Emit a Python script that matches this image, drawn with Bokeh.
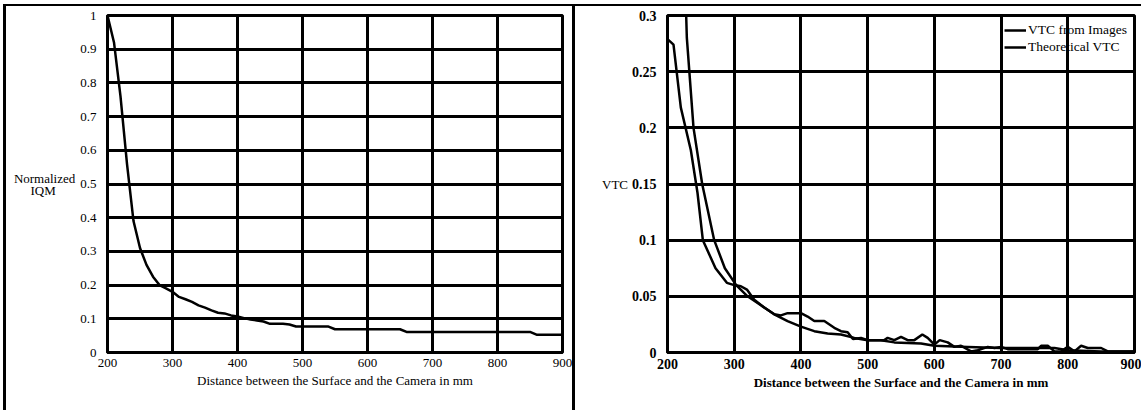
from bokeh.plotting import figure
from bokeh.models import Legend, LegendItem, FixedTicker, Range1d, Div
from bokeh.layouts import row, column
from bokeh.embed import file_html
from bokeh.resources import INLINE

FONT = "Liberation Serif"

# ---- data: left panel (Normalized IQM) ----
dist_iqm = [200, 210, 220, 230, 240, 250, 260, 270, 280, 290, 300, 310, 320, 330, 340,
            350, 360, 370, 380, 390, 400, 410, 420, 430, 440, 450, 460, 470, 480, 490,
            500, 540, 550, 650, 660, 850, 860, 900]
iqm = [1.00, 0.92, 0.76, 0.56, 0.39, 0.31, 0.26, 0.225, 0.20, 0.19, 0.18, 0.165, 0.158, 0.15, 0.14,
       0.133, 0.125, 0.118, 0.116, 0.11, 0.107, 0.102, 0.098, 0.095, 0.092, 0.085, 0.085, 0.085, 0.083, 0.077,
       0.077, 0.077, 0.069, 0.069, 0.061, 0.061, 0.053, 0.053]

# ---- data: right panel (VTC) ----
dist_img = [200, 209, 220, 235, 245, 253, 272, 289, 300, 310, 319, 330, 345, 360, 370, 380, 400,
            410, 420, 435, 450, 460, 470, 478, 490, 500, 525, 530, 540, 550, 560, 570, 582, 590,
            600, 608, 620, 630, 640, 655, 665, 680, 690, 700, 710, 755, 760, 770, 780, 790, 800,
            810, 820, 830, 850, 860, 900]
vtc_img = [0.279, 0.274, 0.218, 0.18, 0.142, 0.10, 0.075, 0.062, 0.060, 0.059, 0.056, 0.047, 0.040, 0.034, 0.033, 0.035, 0.035,
           0.032, 0.028, 0.028, 0.022, 0.019, 0.018, 0.012, 0.013, 0.011, 0.011, 0.013, 0.011, 0.014, 0.011, 0.011, 0.016, 0.013,
           0.007, 0.011, 0.009, 0.005, 0.006, 0.001, 0.002, 0.005, 0.004, 0.005, 0.003, 0.003, 0.006, 0.006, 0.001, 0.001, 0.005,
           0.001, 0.006, 0.004, 0.004, 0.001, 0.001]

dist_theo = [228, 229, 239, 252, 270, 286, 303, 320, 340, 360, 380, 400, 420, 440, 460, 480, 500,
             520, 540, 580, 600, 650, 700, 780, 800, 850, 900]
vtc_theo = [0.30, 0.28, 0.20, 0.15, 0.10, 0.075, 0.060, 0.050, 0.042, 0.034, 0.028, 0.023, 0.019, 0.017, 0.016, 0.013, 0.011,
            0.011, 0.009, 0.008, 0.006, 0.005, 0.004, 0.004, 0.002, 0.001, 0.001]

x_ticks = [200, 300, 400, 500, 600, 700, 800, 900]
x_labels = ["200", "300", "400", "500", "600", "700", "800", "900"]
y_ticks_left = [0, 0.1, 0.2, 0.3, 0.4, 0.5, 0.6, 0.7, 0.8, 0.9, 1]
y_labels_left = ["0", "0.1", "0.2", "0.3", "0.4", "0.5", "0.6", "0.7", "0.8", "0.9", "1"]
y_ticks_right = [0, 0.05, 0.1, 0.15, 0.2, 0.25, 0.3]
y_labels_right = ["0", "0.05", "0.1", "0.15", "0.2", "0.25", "0.3"]

x_title = "Distance between the Surface and the Camera in mm"
# second line padded with no-break spaces so that it sits centred under the first
y_title_left = "Normalized\nIQM" + "\u00a0" * 6
y_title_right = "VTC"


def style(p, yt, yl, ytitle, bold, size, ystand):
    fs = "bold" if bold else "normal"
    p.xaxis.ticker = FixedTicker(ticks=x_ticks)
    p.xaxis.major_label_overrides = {t: l for t, l in zip(x_ticks, x_labels)}
    p.yaxis.ticker = FixedTicker(ticks=yt)
    p.yaxis.major_label_overrides = {t: l for t, l in zip(yt, yl)}
    for ax in (p.xaxis[0], p.yaxis[0]):
        ax.major_tick_line_color = None
        ax.minor_tick_line_color = None
        ax.axis_line_color = "black"
        ax.axis_line_width = 3
        ax.major_label_text_font = FONT
        ax.major_label_text_font_size = size
        ax.major_label_text_font_style = fs
        ax.major_label_text_color = "black"
        ax.axis_label_text_font = FONT
        ax.axis_label_text_font_size = "13px"
        ax.axis_label_text_color = "black"
    p.xaxis.major_label_standoff = 0
    p.yaxis.major_label_standoff = 5
    p.xaxis.axis_label = x_title
    p.xaxis.axis_label_text_font_style = fs
    p.xaxis.axis_label_standoff = 3
    p.yaxis.axis_label = ytitle
    p.yaxis.axis_label_orientation = "horizontal"
    p.yaxis.axis_label_standoff = ystand
    p.yaxis.axis_label_text_font_style = "normal"
    p.yaxis.axis_label_text_line_height = 0.8
    p.grid.grid_line_color = "black"
    p.grid.grid_line_width = 3
    p.grid.grid_line_alpha = 1
    p.outline_line_color = "black"
    p.outline_line_width = 3
    p.background_fill_color = "white"
    p.border_fill_color = "white"


# ---- left figure ----
p1 = figure(width=566, height=404, x_range=Range1d(200, 900), y_range=Range1d(0, 1),
            output_backend="svg", toolbar_location=None,
            min_border_left=101, min_border_right=10, min_border_top=9, min_border_bottom=57)
style(p1, y_ticks_left, y_labels_left, y_title_left, False, "13px", 2)
p1.line(dist_iqm, iqm, line_color="black", line_width=2.5)

# ---- right figure ----
p2 = figure(width=566, height=404, x_range=Range1d(200, 900), y_range=Range1d(0, 0.3),
            output_backend="svg", toolbar_location=None,
            min_border_left=92, min_border_right=7, min_border_top=9, min_border_bottom=58)
style(p2, y_ticks_right, y_labels_right, y_title_right, True, "14px", 1)
r_img = p2.line(dist_img, vtc_img, line_color="black", line_width=2.5)
r_theo = p2.line(dist_theo, vtc_theo, line_color="black", line_width=2.5)
legend = Legend(items=[LegendItem(label="VTC from Images", renderers=[r_img]),
                       LegendItem(label="Theoretical VTC", renderers=[r_theo])],
                location="top_right", margin=4, padding=3, spacing=1,
                glyph_width=22, glyph_height=14, label_standoff=2,
                label_text_font=FONT, label_text_font_size="13.5px", label_text_color="black",
                background_fill_alpha=0, border_line_alpha=0)
p2.add_layout(legend)

# ---- frame lines (page borders around the two panels) ----
top_gap = Div(width=1141, height=4, margin=0)
top_line = Div(width=1138, height=2, margin=(0, 0, 0, 3), styles={"background-color": "black"})
left_gap = Div(width=3, height=404, margin=0)
left_line = Div(width=3, height=404, margin=0, styles={"background-color": "black"})
mid_line = Div(width=3, height=404, margin=0, styles={"background-color": "black"})

layout = column(top_gap, top_line, row(left_gap, left_line, p1, mid_line, p2))
open("out.html", "w").write(file_html(layout, INLINE))
